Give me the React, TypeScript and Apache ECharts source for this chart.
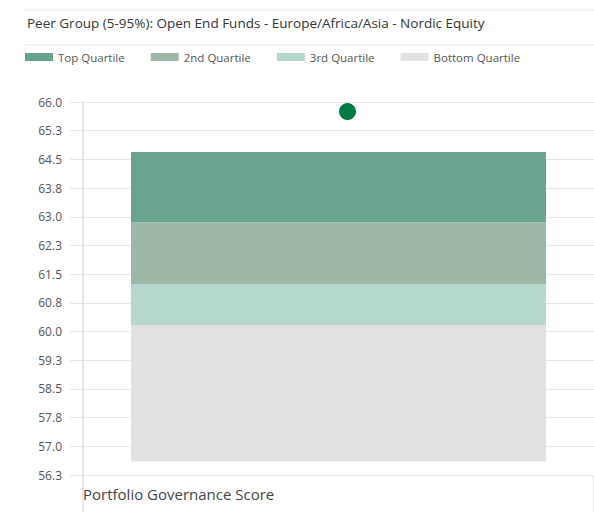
import React, { useEffect, useRef } from "react";
import * as echarts from "echarts";

const titleText = "Peer Group (5-95%): Open End Funds - Europe/Africa/Asia - Nordic Equity";
const categories = ["Portfolio Governance Score"];
const quartileNames = ["Top Quartile", "2nd Quartile", "3rd Quartile", "Bottom Quartile"];
// boundaries: 5th, 25th, 50th, 75th, 95th percentile
const percentiles = [56.6, 60.17, 61.24, 62.86, 64.69];
const portfolioScore = [65.75];
const quartileColors = ["#67a38d", "#9cb9a8", "#b6d7cd", "#e1e1e1"];

export default function App() {
  const ref = useRef<HTMLDivElement>(null);
  useEffect(() => {
    if (!ref.current) return;
    const chart = echarts.init(ref.current, undefined, { renderer: "svg" });
    const font = "Open Sans";
    const bottomQ = percentiles[1] - percentiles[0];
    const thirdQ = percentiles[2] - percentiles[1];
    const secondQ = percentiles[3] - percentiles[2];
    const topQ = percentiles[4] - percentiles[3];
    const barBase = { type: "bar", stack: "q", barWidth: 415, xAxisIndex: 0 };
    chart.setOption({
      animation: false,
      textStyle: { fontFamily: font },
      title: {
        text: titleText,
        left: 22,
        top: 11,
        textStyle: { fontSize: 13.5, fontWeight: "normal", color: "#333", fontFamily: font },
      },
      legend: {
        data: quartileNames,
        left: 25,
        top: 51,
        padding: 0,
        itemWidth: 28,
        itemHeight: 8,
        itemGap: 26,
        icon: "rect",
        textStyle: { fontSize: 11.5, color: "#555", fontFamily: font },
      },
      graphic: [
        { type: "line", shape: { x1: 25, y1: 10, x2: 594, y2: 10 }, style: { stroke: "#e8e8e8", lineWidth: 1 } },
        { type: "line", shape: { x1: 25, y1: 45, x2: 594, y2: 45 }, style: { stroke: "#e8e8e8", lineWidth: 1 } },
        {
          type: "text",
          left: 83,
          top: 486,
          style: { text: categories[0], fontSize: 15, fill: "#444", fontFamily: font },
        },
      ],
      grid: { left: 83, right: -2, top: 102, bottom: 37 },
      xAxis: {
        type: "category",
        data: categories,
        axisLine: { show: false },
        axisTick: { show: true, length: 37, alignWithLabel: false, lineStyle: { color: "#e6e6e6", width: 2 } },
        axisLabel: { show: false },
      },
      yAxis: {
        type: "value",
        min: 56.25,
        max: 66,
        interval: 0.75,
        axisLine: { show: true, lineStyle: { color: "#e6e6e6", width: 2 } },
        axisTick: { show: true, length: 13, lineStyle: { color: "#e6e6e6" } },
        splitLine: { show: true, lineStyle: { color: "#e6e6e6" } },
        axisLabel: {
          margin: 21,
          fontSize: 12,
          color: "#555",
          fontFamily: font,
          formatter: (v: number) => v.toFixed(1),
        },
      },
      series: [
        { ...barBase, name: "base", data: [percentiles[0]], itemStyle: { color: "transparent" }, silent: true },
        { ...barBase, name: "Bottom Quartile", data: [bottomQ], itemStyle: { color: quartileColors[3] } },
        { ...barBase, name: "3rd Quartile", data: [thirdQ], itemStyle: { color: quartileColors[2] } },
        { ...barBase, name: "2nd Quartile", data: [secondQ], itemStyle: { color: quartileColors[1] } },
        { ...barBase, name: "Top Quartile", data: [topQ], itemStyle: { color: quartileColors[0] } },
        {
          type: "scatter",
          name: "Portfolio",
          data: portfolioScore,
          symbolSize: 17,
          symbolOffset: [9, 0],
          itemStyle: { color: "#007a45", opacity: 1 },
          z: 5,
        },
      ],
    });
    return () => chart.dispose();
  }, []);
  return <div ref={ref} style={{ position: "absolute", left: 0, top: 0, width: 594, height: 512 }} />;
}
